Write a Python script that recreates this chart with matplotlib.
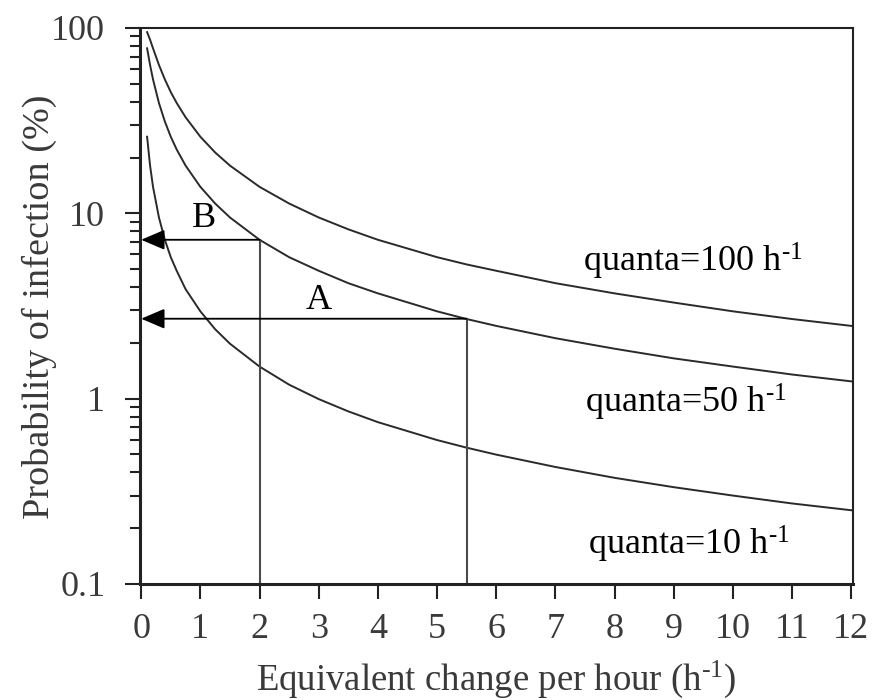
import matplotlib
matplotlib.use("Agg")
import matplotlib.pyplot as plt
from matplotlib.ticker import LogLocator, FixedLocator, NullFormatter

plt.rcParams['font.family'] = ['Liberation Serif', 'DejaVu Serif']
plt.rcParams['mathtext.fontset'] = 'custom'
plt.rcParams['mathtext.rm'] = 'Liberation Serif'
plt.rcParams['mathtext.it'] = 'Liberation Serif'

# Equivalent change per hour (h^-1)
ach = [0.1, 0.15, 0.2, 0.3, 0.4, 0.5, 0.6, 0.75, 1, 1.25, 1.5, 2, 2.5, 3, 3.5,
       4, 5, 5.5, 6, 7, 8, 9, 10, 11, 12]
# Probability of infection (%)
p_q100 = [95.0, 86.5, 77.7, 63.2, 52.8, 45.1, 39.4, 33.0, 25.9, 21.3, 18.1, 13.9,
          11.3, 9.5, 8.2, 7.2, 5.8, 5.3, 4.9, 4.2, 3.7, 3.3, 2.96, 2.69, 2.47]
p_q50 = [77.7, 63.2, 52.8, 39.4, 31.3, 25.9, 22.1, 18.1, 13.9, 11.3, 9.5, 7.2,
         5.8, 4.9, 4.2, 3.7, 2.96, 2.69, 2.47, 2.12, 1.86, 1.65, 1.49, 1.35, 1.24]
p_q10 = [25.9, 18.1, 13.9, 9.5, 7.2, 5.8, 4.9, 3.9, 2.96, 2.37, 1.98, 1.49,
         1.19, 0.995, 0.854, 0.747, 0.598, 0.544, 0.499, 0.428, 0.374, 0.333,
         0.300, 0.272, 0.250]

series_labels = ["quanta=100 h$^{\\text{-1}}$",
                 "quanta=50 h$^{\\text{-1}}$",
                 "quanta=10 h$^{\\text{-1}}$"]
label_pos = [(7.47, 4.82), (7.50, 0.834), (7.55, 0.143)]

# Example readings (A and B)
example_names = ["B", "A"]
example_x = [2.0, 5.5]
example_y = [7.2, 2.7]
example_label_pos = [(1.06, 9.4), (3.0, 3.4)]

xticks = list(range(0, 13))
yticks = [0.1, 1, 10, 100]
ytick_labels = ["0.1", "1", "10", "100"]

W, H = 873, 700
fig = plt.figure(figsize=(W / 100, H / 100), dpi=100)
ax = fig.add_axes([140 / W, 1 - 584 / H, (853 - 140) / W, (584 - 28) / H])

line_color = '#2a2a2a'
for ys in (p_q100, p_q50, p_q10):
    ax.plot(ach, ys, color=line_color, lw=1.4)

for (lx, ly), txt in zip(label_pos, series_labels):
    ax.text(lx, ly, txt, fontsize=26, ha='left', va='baseline', color='black')

for name, ex, ey, (tx, ty) in zip(example_names, example_x, example_y, example_label_pos):
    ax.plot([ex, ex], [0.1, ey], color='#4a4a4a', lw=1.5)
    ax.annotate('', xy=(0, ey), xytext=(ex, ey),
                arrowprops=dict(arrowstyle='-|>,head_length=1.45,head_width=0.62',
                                color='black', lw=1.3, shrinkA=0, shrinkB=0,
                                mutation_scale=10),
                annotation_clip=False)
    ax.text(tx, ty, name, fontsize=26, ha='center', va='center', color='black')

ax.set_yscale('log')
ax.set_xlim(-0.02, 12.03)
ax.set_ylim(0.1, 100)
ax.set_xticks(xticks)
ax.set_xticklabels([str(t) for t in xticks])
ax.yaxis.set_major_locator(FixedLocator(yticks))
ax.set_yticklabels(ytick_labels)
ax.yaxis.set_minor_locator(LogLocator(base=10, subs=range(2, 10)))
ax.yaxis.set_minor_formatter(NullFormatter())

ax.tick_params(axis='both', which='major', direction='out', length=11, width=1.5,
               labelsize=26, colors='#222222', labelcolor='#3a3a3a',
               top=False, right=False)
ax.tick_params(axis='y', which='major', pad=14)
ax.tick_params(axis='x', which='major', pad=10)
ax.tick_params(axis='y', which='minor', direction='out', length=7, width=1.5,
               colors='#222222', right=False)

ax.spines['left'].set_linewidth(2.2)
ax.spines['bottom'].set_linewidth(2.2)
ax.spines['top'].set_linewidth(1.5)
ax.spines['right'].set_linewidth(1.5)
for s in ax.spines.values():
    s.set_color('#222222')

fig.text(496 / W, 1 - 690 / H, "Equivalent change per hour (h$^{\\text{-1}}$)",
         fontsize=26.5, color='#3a3a3a', ha='center', va='baseline')
fig.text(39 / W, 1 - 307 / H, "Probability of infection (%)", rotation=90,
         fontsize=27.5, color='#3a3a3a', ha='center', va='center')

fig.savefig("out.png", dpi=100)
